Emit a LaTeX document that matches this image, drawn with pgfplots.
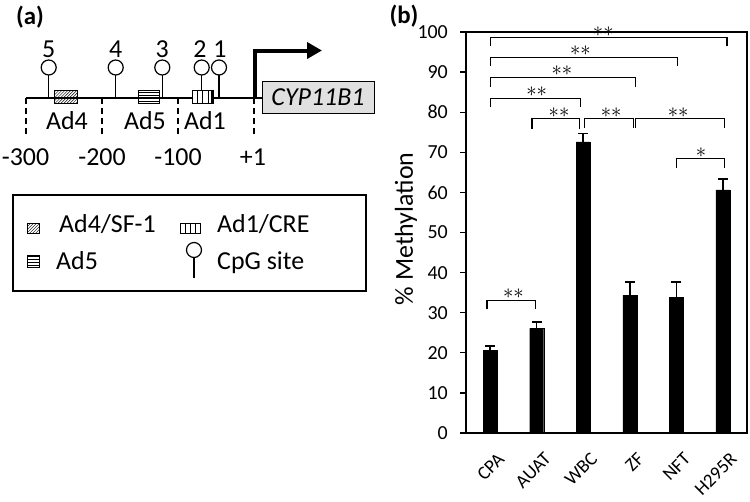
\documentclass[border=0pt]{standalone}
\usepackage{fontspec}
\setmainfont{Carlito}
\usepackage{pgfplots}
\pgfplotsset{compat=1.18}
\usetikzlibrary{patterns,arrows.meta}

\pgfplotstableread{
x y e
0 20.6 1.1
1 26.1 1.6
2 72.6 2.1
3 34.4 3.3
4 33.9 3.8
5 60.6 2.8
}\methyl

\newcommand\fA{\fontsize{26}{30}\selectfont}
\newcommand\fT{\fontsize{20}{24}\selectfont}
\newcommand\fX{\fontsize{19}{23}\selectfont}
\newcommand\fL{\fontsize{26}{30}\selectfont}

\begin{document}
\begin{tikzpicture}
\path[use as bounding box] (0,0) rectangle (750bp,-502bp);

% ---------------- Panel (a): schematic ----------------
\begin{axis}[at={(0bp,-502bp)}, anchor=south west, scale only axis,
  width=375bp, height=502bp, xmin=0, xmax=375, ymin=0, ymax=502,
  y dir=reverse, hide axis, clip=false]
\node[font=\bfseries\fontsize{25}{30}\selectfont] at (30,17) {(a)};
% dashed position markers
\draw[dash pattern=on 6bp off 4bp, line width=1.2bp] (26,98) -- (26,137);
\draw[dash pattern=on 6bp off 4bp, line width=1.2bp] (102,98) -- (102,137);
\draw[dash pattern=on 6bp off 4bp, line width=1.2bp] (178,98) -- (178,137);
\draw[dash pattern=on 6bp off 4bp, line width=1.2bp] (254,98) -- (254,137);
% baseline
\draw[line width=1.3bp] (26,98) -- (262,98);
% position labels
\node[font=\fA] at (25.5,157.5) {-300};
\node[font=\fA] at (102,157.5) {-200};
\node[font=\fA] at (178,157.5) {-100};
\node[font=\fA] at (253,157.5) {+1};
% elements
\draw[pattern=north east lines, line width=1bp] (54,90) rectangle (77,103);
\draw[pattern=horizontal lines, line width=1bp] (138,90) rectangle (159,103);
\draw[fill=white, line width=1bp] (192,90) rectangle (213,103);
\draw[line width=1bp] (197.3,90) -- (197.3,103);
\draw[line width=1bp] (202.7,90) -- (202.7,103);
\draw[line width=1bp] (208.3,90) -- (208.3,103);
\draw[line width=2bp] (212,90) -- (212,103);
\node[font=\fA] at (67,121) {Ad4};
\node[font=\fA] at (145,121) {Ad5};
\node[font=\fA] at (205,121) {Ad1};
% CpG sites
\draw[line width=1.2bp] (48.7,98) -- (48.7,75);
\draw[line width=1.2bp] (115.7,98) -- (115.7,75);
\draw[line width=1.2bp] (162.3,98) -- (162.3,75);
\draw[line width=1.2bp] (201.7,90) -- (201.7,75);
\draw[line width=1.2bp] (219,98) -- (219,75);
\node[circle, draw, line width=1.2bp, fill=white, minimum size=15bp, inner sep=0] at (48.7,67.5) {};
\node[circle, draw, line width=1.2bp, fill=white, minimum size=15bp, inner sep=0] at (115.7,67.5) {};
\node[circle, draw, line width=1.2bp, fill=white, minimum size=15bp, inner sep=0] at (162.3,67.5) {};
\node[circle, draw, line width=1.2bp, fill=white, minimum size=15bp, inner sep=0] at (201.7,67.5) {};
\node[circle, draw, line width=1.2bp, fill=white, minimum size=15bp, inner sep=0] at (219,67.5) {};
\node[font=\fA] at (48.7,49.5) {5};
\node[font=\fA] at (115.7,49.5) {4};
\node[font=\fA] at (162.3,49.5) {3};
\node[font=\fA] at (200,49.5) {2};
\node[font=\fA] at (220,49.5) {1};
% transcription start arrow
\draw[line width=4bp, -{Triangle[length=15bp,width=16bp]}] (254.5,98) -- (254.5,50.5) -- (322,50.5);
% gene box
\draw[fill=black!12, line width=1bp] (262,81.5) rectangle (374,113);
\node[font=\itshape\fA] at (318,97) {CYP11B1};
% legend
\draw[line width=1.2bp] (13,195) rectangle (366,291);
\draw[pattern=north east lines, line width=0.8bp] (27,223) rectangle (39,233);
\node[anchor=base west, inner sep=0, font=\fA] at (59,232.7) {Ad4/SF-1};
\draw[fill=white, line width=0.8bp] (180,223) rectangle (200,233);
\draw[line width=0.8bp] (185,223) -- (185,233);
\draw[line width=0.8bp] (190,223) -- (190,233);
\draw[line width=0.8bp] (195,223) -- (195,233);
\node[anchor=base west, inner sep=0, font=\fA] at (217,232.7) {Ad1/CRE};
\draw[pattern=horizontal lines, line width=0.8bp] (27,255) rectangle (39,267);
\node[anchor=base west, inner sep=0, font=\fA] at (56,269.5) {Ad5};
\draw[line width=1.2bp] (194,257.5) -- (194,278);
\node[circle, draw, line width=1.2bp, fill=white, minimum size=15bp, inner sep=0] at (194,250) {};
\node[anchor=base west, inner sep=0, font=\fA] at (217,269.5) {CpG site};
\end{axis}

% ---------------- Panel (b): bar chart ----------------
\node[font=\bfseries\fontsize{25}{30}\selectfont] at (404bp,-16bp) {(b)};
\begin{axis}[at={(466bp,-433bp)}, anchor=south west, scale only axis,
  width=281bp, height=401bp,
  xmin=-0.52, xmax=5.52, ymin=0, ymax=100,
  ytick={0,10,...,100},
  xtick={0,1,2,3,4,5},
  xticklabels={CPA,AUAT,WBC,ZF,NFT,H295R},
  xtick style={draw=none},
  ytick pos=left,
  tick align=outside,
  major tick length=6bp,
  ytick style={line width=1.3bp, black},
  axis line style={line width=1.3bp},
  /pgf/number format/assume math mode=true,
  yticklabel style={font=\fT, inner sep=0pt, xshift=-12bp},
  xticklabel style={font=\fX, inner sep=0pt, xshift=11bp, yshift=-17bp, rotate=45, anchor=east},
  clip=false]
\addplot[ybar, bar width=14bp, fill=black, draw=black,
  error bars/.cd, y dir=plus, y explicit,
  error bar style={line width=1.5bp, black},
  error mark options={rotate=90, line width=1.5bp, mark size=5bp, black}]
  table[x=x, y=y, y error=e] {\methyl};
\node[font=\fL, rotate=90] at (axis description cs:-0.2135,0.509) {\% Methylation};
% significance brackets
\draw[line width=1.3bp] (-0.07,30.8) -- (-0.07,33.1) -- (0.98,33.1) -- (0.98,30.8);
\node[font=\fT] at (0.5,34.7) {$\ast\ast$};
\draw[line width=1.3bp] (0.9,75.9) -- (0.9,78.4) -- (1.92,78.4) -- (1.92,75.9);
\node[font=\fT] at (1.48,80.0) {$\ast\ast$};
\draw[line width=1.3bp] (2.02,76.0) -- (2.02,78.4) -- (3.08,78.4) -- (3.08,76.0);
\node[font=\fT] at (2.6,80.0) {$\ast\ast$};
\draw[line width=1.3bp] (3.13,76.0) -- (3.13,78.4) -- (5.03,78.4) -- (5.03,76.0);
\node[font=\fT] at (4.04,80.0) {$\ast\ast$};
\draw[line width=1.3bp] (4.01,66.2) -- (4.01,68.4) -- (5.03,68.4) -- (5.03,66.2);
\node[font=\fT] at (4.53,70.0) {$\ast$};
\draw[line width=1.3bp] (0,81.2) -- (0,83.5) -- (1.94,83.5) -- (1.94,81.2);
\node[font=\fT] at (1.0,85.2) {$\ast\ast$};
\draw[line width=1.3bp] (0,86.4) -- (0,88.6) -- (3.12,88.6) -- (3.12,86.4);
\node[font=\fT] at (1.54,90.3) {$\ast\ast$};
\draw[line width=1.3bp] (0,91.6) -- (0,93.7) -- (4.03,93.7) -- (4.03,91.6);
\node[font=\fT] at (1.94,95.3) {$\ast\ast$};
\draw[line width=1.3bp] (0,96.6) -- (0,98.6) -- (5.09,98.6) -- (5.09,96.6);
\node[font=\fT] at (2.43,100.2) {$\ast\ast$};
\end{axis}
\end{tikzpicture}
\end{document}
